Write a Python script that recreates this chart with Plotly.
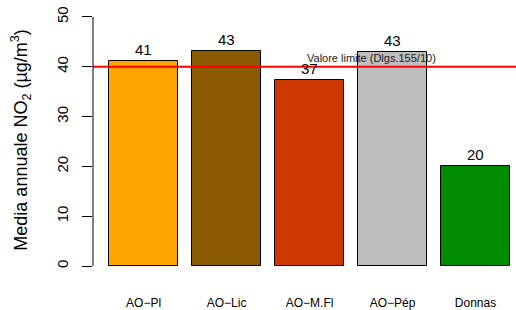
import plotly.graph_objects as go

categories = ["AO\u2212Pl", "AO\u2212Lic", "AO\u2212M.Fl", "AO\u2212Pép", "Donnas"]
values = [41.2, 43.2, 37.3, 42.9, 20.0]
labels = ["41", "43", "37", "43", "20"]
colors = ["#FFA500", "#8B5A00", "#CD3700", "#BEBEBE", "#008B00"]
limit_value = 40
limit_text = "Valore limite (Dlgs.155/10)"
y_ticks = [0, 10, 20, 30, 40, 50]

# R barplot positions: width 1, space 0.2
xpos = [0.7 + 1.2 * i for i in range(len(categories))]

fig = go.Figure()
fig.add_trace(go.Bar(
    x=xpos, y=values, width=1.0,
    marker=dict(color=colors, line=dict(color="black", width=1)),
    hoverinfo="skip", showlegend=False,
))

for x, v, t in zip(xpos, values, labels):
    fig.add_annotation(x=x, y=v, text=t, showarrow=False, yanchor="bottom",
                       yshift=1, font=dict(size=15, color="black",
                                           family="Liberation Sans, Arial"))

fig.add_shape(type="line", xref="paper", x0=0, x1=1, yref="y",
              y0=limit_value, y1=limit_value,
              line=dict(color="#FF0000", width=2))
fig.add_annotation(x=4.0, y=limit_value, text=limit_text, showarrow=False,
                   yanchor="bottom", yshift=1,
                   font=dict(size=11, color="#222222", family="Liberation Sans, Arial"))

# y axis line only from 0 to 50
fig.add_shape(type="line", xref="paper", x0=0, x1=0, yref="y", y0=0, y1=50,
              line=dict(color="black", width=1))

# y title
fig.add_annotation(xref="paper", yref="paper", x=-93 / 423, y=0.505,
                   xanchor="left", yanchor="middle", xshift=6,
                   text="Media annuale NO<sub>2</sub> (µg/m<sup>3</sup>)",
                   textangle=-90, showarrow=False,
                   font=dict(size=18, color="black", family="Liberation Sans, Arial"))

fig.update_layout(
    width=516, height=310,
    margin=dict(l=93, r=0, t=7, b=34),
    plot_bgcolor="white", paper_bgcolor="white",
    font=dict(family="Liberation Sans, Arial", color="black"),
    bargap=0,
    xaxis=dict(range=[-0.032, 6.086], tickvals=xpos, ticktext=categories,
               showgrid=False, zeroline=False, showline=False, ticks="",
               tickfont=dict(size=12), ticklabelstandoff=18, automargin=False),
    yaxis=dict(range=[-2, 52], tickvals=y_ticks, showgrid=False, zeroline=False,
               showline=False, ticks="outside", ticklen=10, tickcolor="black",
               tickwidth=1, tickangle=-90, tickfont=dict(size=15),
               ticklabelstandoff=8, automargin=False),
)

fig.write_html("out.html", config={"displayModeBar": False},
               post_script="document.body.style.margin='0';document.body.style.overflow='hidden';")
